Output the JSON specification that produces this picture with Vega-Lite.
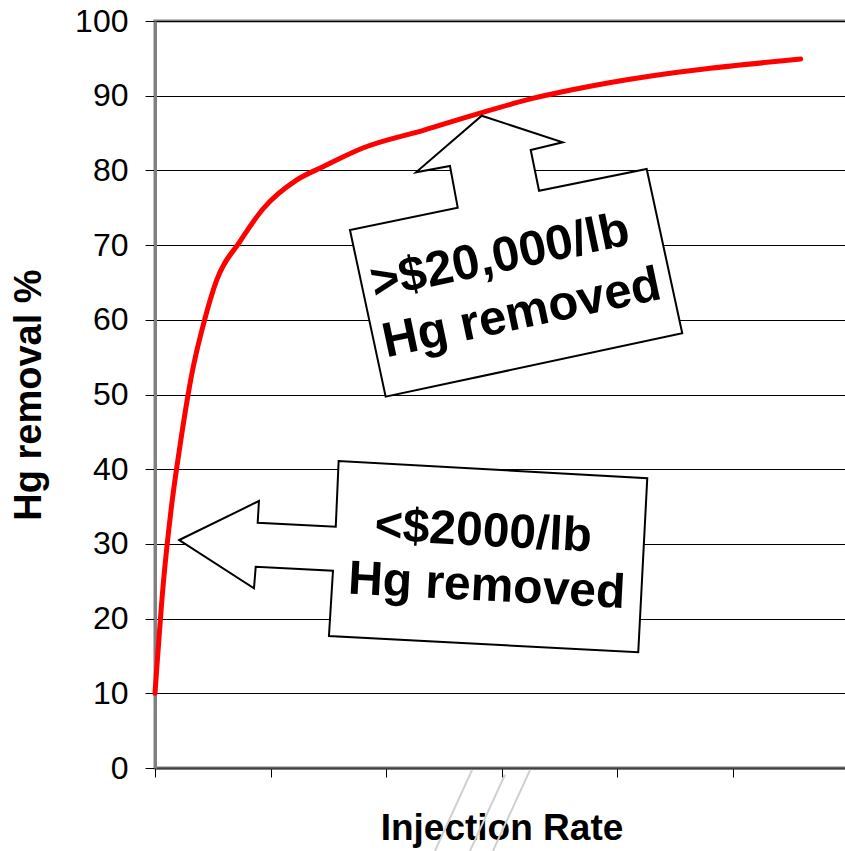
{
  "$schema": "https://vega.github.io/schema/vega-lite/v6.json",
  "width": 693,
  "height": 747,
  "autosize": {"type": "none"},
  "padding": {"left": 155, "top": 21, "right": 0, "bottom": 83},
  "background": "white",
  "config": {
    "view": {"stroke": "#808080", "strokeWidth": 3},
    "font": "Liberation Sans"
  },
  "datasets": {
    "curve": [
      {"rate": 0, "removal": 10},
      {"rate": 0.072, "removal": 24.7},
      {"rate": 0.145, "removal": 35.3},
      {"rate": 0.216, "removal": 43.1},
      {"rate": 0.326, "removal": 53.3},
      {"rate": 0.433, "removal": 60.2},
      {"rate": 0.534, "removal": 65.3},
      {"rate": 0.736, "removal": 70.5},
      {"rate": 0.938, "removal": 74.9},
      {"rate": 1.225, "removal": 78.7},
      {"rate": 1.455, "removal": 80.5},
      {"rate": 1.8, "removal": 83.0},
      {"rate": 2.33, "removal": 85.4},
      {"rate": 2.8, "removal": 87.6},
      {"rate": 3.26, "removal": 89.6},
      {"rate": 3.92, "removal": 91.7},
      {"rate": 5.59, "removal": 94.9}
    ],
    "shapes": [
      {"shape": "upper", "i": 0, "x": 2.829, "y": 87.32},
      {"shape": "upper", "i": 1, "x": 3.53, "y": 83.76},
      {"shape": "upper", "i": 2, "x": 3.253, "y": 82.73},
      {"shape": "upper", "i": 3, "x": 3.325, "y": 77.28},
      {"shape": "upper", "i": 4, "x": 4.257, "y": 80.19},
      {"shape": "upper", "i": 5, "x": 4.565, "y": 58.19},
      {"shape": "upper", "i": 6, "x": 1.997, "y": 49.71},
      {"shape": "upper", "i": 7, "x": 1.688, "y": 72.02},
      {"shape": "upper", "i": 8, "x": 2.621, "y": 75.01},
      {"shape": "upper", "i": 9, "x": 2.554, "y": 80.59},
      {"shape": "upper", "i": 10, "x": 2.26, "y": 79.75},
      {"shape": "upper", "i": 11, "x": 2.829, "y": 87.32},
      {"shape": "lower", "i": 0, "x": 0.21, "y": 30.52},
      {"shape": "lower", "i": 1, "x": 0.9, "y": 35.74},
      {"shape": "lower", "i": 2, "x": 0.889, "y": 32.84},
      {"shape": "lower", "i": 3, "x": 1.565, "y": 32.3},
      {"shape": "lower", "i": 4, "x": 1.59, "y": 41.1},
      {"shape": "lower", "i": 5, "x": 4.262, "y": 38.78},
      {"shape": "lower", "i": 6, "x": 4.184, "y": 15.49},
      {"shape": "lower", "i": 7, "x": 1.506, "y": 17.67},
      {"shape": "lower", "i": 8, "x": 1.541, "y": 26.41},
      {"shape": "lower", "i": 9, "x": 0.872, "y": 26.95},
      {"shape": "lower", "i": 10, "x": 0.857, "y": 24.06},
      {"shape": "lower", "i": 11, "x": 0.21, "y": 30.52}
    ],
    "hatch": [
      {"id": "a", "x": 2.745, "y": -0.27},
      {"id": "a", "x": 2.424, "y": -11.1},
      {"id": "b", "x": 3.03, "y": -0.9},
      {"id": "b", "x": 2.727, "y": -11.1},
      {"id": "c", "x": 3.247, "y": -0.27},
      {"id": "c", "x": 2.926, "y": -11.1}
    ],
    "upperText": [
      {"x": 2.987, "y": 68.45, "label": ">$20,000/lb"},
      {"x": 3.175, "y": 60.87, "label": "Hg removed"}
    ],
    "lowerText": [
      {"x": 2.842, "y": 31.63, "label": "<$2000/lb"},
      {"x": 2.872, "y": 24.27, "label": "Hg removed"}
    ]
  },
  "layer": [
    {
      "data": {"name": "hatch"},
      "mark": {"type": "line", "color": "#d0d0d0", "strokeWidth": 2, "clip": false},
      "encoding": {
        "x": {"field": "x", "type": "quantitative", "scale": {"domain": [0, 6], "nice": false}},
        "y": {"field": "y", "type": "quantitative", "scale": {"domain": [0, 100], "nice": false}},
        "detail": {"field": "id"}
      }
    },
    {
      "data": {"name": "curve"},
      "mark": {"type": "line", "color": "#ff0000", "strokeWidth": 5, "interpolate": "monotone", "strokeCap": "round"},
      "encoding": {
        "x": {
          "field": "rate", "type": "quantitative",
          "scale": {"domain": [0, 6], "nice": false},
          "axis": {
            "title": "Injection Rate", "labels": false, "grid": false,
            "values": [0, 1, 2, 3, 4, 5, 6],
            "domainColor": "#404040", "domainWidth": 2,
            "tickColor": "#000000", "tickSize": 9, "tickWidth": 1,
            "titleFont": "Liberation Sans", "titleFontSize": 37, "titleFontWeight": "bold",
            "titleColor": "#000000", "titlePadding": 33
          }
        },
        "y": {
          "field": "removal", "type": "quantitative",
          "scale": {"domain": [0, 100], "nice": false},
          "axis": {
            "title": "Hg removal %", "values": [0, 10, 20, 30, 40, 50, 60, 70, 80, 90, 100],
            "grid": true, "gridColor": "#000000", "gridWidth": 1, "gridOpacity": 1,
            "domainColor": "#808080", "domainWidth": 3,
            "tickColor": "#000000", "tickSize": 10, "tickWidth": 1,
            "labelFont": "Liberation Sans", "labelFontSize": 32, "labelColor": "#000000", "labelPadding": 17,
            "titleFont": "Liberation Sans", "titleFontSize": 38, "titleFontWeight": "bold",
            "titleColor": "#000000", "titlePadding": 26
          }
        }
      }
    },
    {
      "data": {"name": "shapes"},
      "mark": {"type": "line", "stroke": "#000000", "fill": "#ffffff", "strokeWidth": 2, "interpolate": "linear-closed"},
      "encoding": {
        "x": {"field": "x", "type": "quantitative"},
        "y": {"field": "y", "type": "quantitative"},
        "detail": {"field": "shape"},
        "order": {"field": "i", "type": "quantitative"}
      }
    },
    {
      "data": {"name": "upperText"},
      "mark": {"type": "text", "font": "Liberation Sans", "fontSize": 49, "fontWeight": "bold", "angle": 348, "align": "center", "baseline": "middle", "color": "#000000"},
      "encoding": {
        "x": {"field": "x", "type": "quantitative"},
        "y": {"field": "y", "type": "quantitative"},
        "text": {"field": "label"}
      }
    },
    {
      "data": {"name": "lowerText"},
      "mark": {"type": "text", "font": "Liberation Sans", "fontSize": 48, "fontWeight": "bold", "angle": 3, "align": "center", "baseline": "middle", "color": "#000000"},
      "encoding": {
        "x": {"field": "x", "type": "quantitative"},
        "y": {"field": "y", "type": "quantitative"},
        "text": {"field": "label"}
      }
    }
  ]
}
